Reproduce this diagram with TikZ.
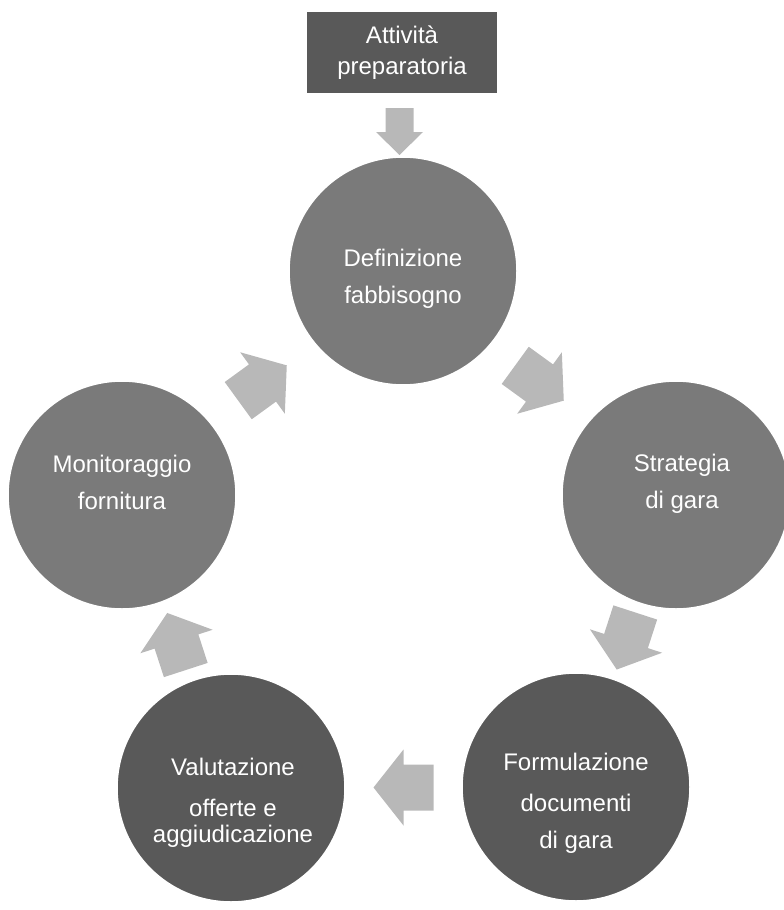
\documentclass[tikz,border=0pt]{standalone}
\usepackage{fontspec}
\setmainfont{Liberation Sans}
\usetikzlibrary{calc}

\definecolor{darkgrey}{HTML}{595959}
\definecolor{midgrey}{HTML}{7A7A7A}
\definecolor{arrowgrey}{HTML}{B8B8B8}

\tikzset{
  phase/.style={circle, minimum size=228pt, inner sep=0pt, draw=white, line width=1.5pt},
  phasetext/.style={text=white, align=center, font=\fontsize{24}{37}\selectfont},
  cyclearrow/.pic={\fill[arrowgrey] (-30,-23) -- (0,-23) -- (0,-38) -- (30,0) -- (0,38) -- (0,23) -- (-30,23) -- cycle;},
  startarrow/.pic={\fill[arrowgrey] (-14,-23.5) -- (14,-23.5) -- (14,0.5) -- (23.5,0.5) -- (0,23.5) -- (-23.5,0.5) -- (-14,0.5) -- cycle;}
}

\begin{document}
\begin{tikzpicture}[x=1pt,y=-1pt]
    \useasboundingbox (0,0) rectangle (784,910);

    % starting box
    \node [fill=darkgrey, minimum width=190pt, minimum height=81pt, text=white, align=center,
      font=\fontsize{24}{31}\selectfont] (prep) at (402,52.5) {Attività\\preparatoria};

    % the five phases
    \node [phase, fill=midgrey] (def) at (403,271) {};
    \node [phase, fill=midgrey] (str) at (676,495) {};
    \node [phase, fill=darkgrey] (for) at (576,787) {};
    \node [phase, fill=darkgrey] (val) at (231,788) {};
    \node [phase, fill=midgrey] (mon) at (122,495) {};

    \node [phasetext] (defT) at ([yshift=-8pt]def.center) {Definizione\\fabbisogno};
    \node [phasetext] (strT) at ([xshift=6pt,yshift=11pt]str.center) {Strategia\\di gara};
    \node [phasetext] (forT) at ([yshift=-16pt]for.center) {Formulazione\\[4pt]documenti\\di gara};
    \node [phasetext, font=\fontsize{24}{26.5}\selectfont] (valT) at ([xshift=2pt,yshift=-15pt]val.center)
      {Valutazione\\[14.5pt]offerte e\\aggiudicazione};
    \node [phasetext] (monT) at ([yshift=13pt]mon.center) {Monitoraggio\\fornitura};

    % block arrows
    \coordinate (a0) at (399.5,131.5);
    \pic at (a0) {startarrow};
    \coordinate (a1) at ($(def)!0.5!(str)$);
    \coordinate (a2) at ($(str)!0.5!(for)$);
    \coordinate (a3) at ($(for)!0.5!(val)$);
    \coordinate (a4) at ($(val)!0.5!(mon)$);
    \coordinate (a5) at ($(mon)!0.5!(def)$);
    \pic [rotate=-36] at (a1) {cyclearrow};
    \pic [rotate=-108] at (a2) {cyclearrow};
    \pic [rotate=180] at (a3) {cyclearrow};
    \pic [rotate=108] at (a4) {cyclearrow};
    \pic [rotate=36] at (a5) {cyclearrow};
\end{tikzpicture}
\end{document}
